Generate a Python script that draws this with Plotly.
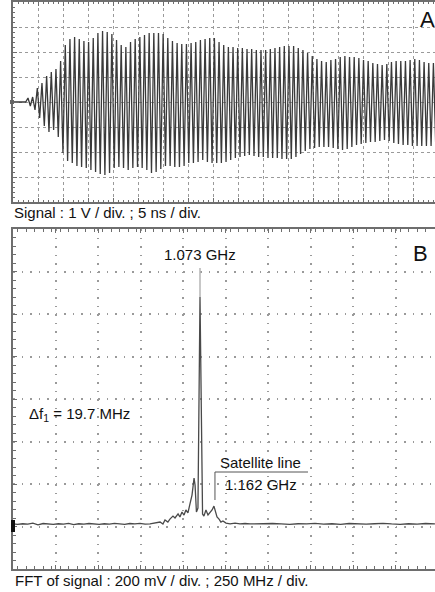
import plotly.graph_objects as go

# ---------------- data ----------------
# Panel A: per-cycle positive / negative peak voltages (V)
carrier_ghz = 1.073
signal_start_ns = 3.0
top_peaks_v = [0.16, 0.20, 0.56, 0.76, 1.04, 1.20, 1.32, 1.64, 2.28, 2.52,
               2.60, 2.52, 2.44, 2.40, 2.56, 2.76, 2.84, 2.80, 2.72, 2.48,
               2.28, 2.20, 2.40, 2.52, 2.60, 2.68, 2.76, 2.76, 2.76, 2.72,
               2.56, 2.44, 2.36, 2.32, 2.32, 2.36, 2.40, 2.48, 2.52, 2.56,
               2.56, 2.40, 2.28, 2.20, 2.20, 2.16, 2.16, 2.12, 2.12, 2.08,
               2.08, 2.08, 2.12, 2.16, 2.20, 2.24, 2.24, 2.24, 2.16, 2.08,
               1.96, 1.84, 1.72, 1.64, 1.60, 1.68, 1.72, 1.80, 1.84, 1.80,
               1.80, 1.76, 1.68, 1.64, 1.56, 1.52, 1.48, 1.52, 1.60, 1.64,
               1.64, 1.64, 1.68, 1.72, 1.68, 1.60, 1.56, 1.56]
bottom_peaks_v = [-0.16, -0.32, -0.64, -0.96, -1.20, -1.12, -1.40, -2.04, -2.36, -2.44,
                  -2.56, -2.60, -2.64, -2.72, -2.80, -2.88, -2.92, -2.84, -2.64, -2.60,
                  -2.64, -2.72, -2.64, -2.60, -2.64, -2.72, -2.84, -2.80, -2.68, -2.56,
                  -2.56, -2.60, -2.60, -2.56, -2.44, -2.44, -2.40, -2.32, -2.40, -2.44,
                  -2.44, -2.44, -2.40, -2.32, -2.24, -2.20, -2.16, -2.12, -2.16, -2.20,
                  -2.20, -2.24, -2.24, -2.24, -2.28, -2.28, -2.28, -2.20, -2.08, -1.96,
                  -1.88, -1.84, -1.80, -1.80, -1.80, -1.84, -1.88, -1.92, -1.88, -1.80,
                  -1.72, -1.68, -1.64, -1.60, -1.60, -1.56, -1.52, -1.56, -1.64, -1.68,
                  -1.72, -1.72, -1.76, -1.76, -1.76, -1.76, -1.76, -1.76]

# Panel B: FFT spectrum (MHz, V)
fft_freq_mhz = [-27, 0, 30, 60, 90, 120, 150, 180, 210, 240, 270, 300, 330, 360,
                390, 420, 450, 480, 510, 540, 570, 600, 630, 660, 690, 720, 750,
                779, 808, 838, 855, 867, 884, 896, 914, 926, 944, 955, 967, 979,
                990, 1002, 1014, 1026, 1038, 1044, 1052, 1061, 1073, 1088, 1096,
                1108, 1120, 1132, 1144, 1155, 1163, 1173, 1185, 1196, 1208, 1226,
                1250, 1279, 1308, 1338, 1367,
                1400, 1450, 1500, 1550, 1600, 1650, 1700, 1750, 1800, 1850, 1900,
                1950, 2000, 2050, 2100, 2150, 2200, 2250, 2300, 2350, 2400, 2455]
fft_amp_v = [0.012, 0.010, 0.013, 0.011, 0.016, 0.008, 0.014, 0.012, 0.010, 0.013,
             0.011, 0.015, 0.009, 0.013, 0.011, 0.014, 0.012, 0.010, 0.013, 0.011,
             0.015, 0.012, 0.010, 0.014, 0.012, 0.015, 0.011,
             0.012, 0.016, 0.021, 0.012, 0.031, 0.021, 0.035, 0.049, 0.040, 0.059,
             0.045, 0.068, 0.054, 0.078, 0.064, 0.106, 0.148, 0.228, 0.195, 0.068,
             0.087, 1.080, 0.059, 0.049, 0.078, 0.054, 0.064, 0.078, 0.096, 0.078,
             0.045, 0.035, 0.021, 0.026, 0.016, 0.012, 0.016, 0.012, 0.014, 0.012,
             0.013, 0.011, 0.014, 0.012, 0.010, 0.013, 0.012, 0.015, 0.011, 0.013,
             0.010, 0.014, 0.012, 0.011, 0.013, 0.015, 0.012, 0.010, 0.013, 0.011,
             0.014, 0.012]

# ---------------- build traces ----------------
period_ns = 1.0 / carrier_ghz
t_a = [0.0, signal_start_ns - period_ns / 2]
v_a = [0.0, 0.0]
for k, (tp, bt) in enumerate(zip(top_peaks_v, bottom_peaks_v)):
    t0 = signal_start_ns + k * period_ns
    t_a += [t0, t0 + period_ns / 2]
    v_a += [tp, bt]

FONT = "Arial, 'Liberation Sans', sans-serif"
W, H = 435, 592
GRID = "#9a9a9a"
FRAME = "#6e6e6e"

fig = go.Figure()
fig.add_trace(go.Scatter(x=t_a, y=v_a, mode="lines",
                         line=dict(color="#3a3a3a", width=1.3),
                         xaxis="x", yaxis="y", hoverinfo="skip"))
fig.add_trace(go.Scatter(x=fft_freq_mhz, y=fft_amp_v, mode="lines",
                         line=dict(color="#4a4a4a", width=1.3),
                         xaxis="x2", yaxis="y2", hoverinfo="skip"))

def px_x(p):
    return p / W

def px_y(p):
    return 1 - p / H

x_dom = [px_x(13), 1.0]
a_range = [0, (W - 13) / 25 * 5]
b_f0 = -27
b_range = [b_f0, b_f0 + (W - 13) / 42.5 * 250]

common_x = dict(showticklabels=False, showgrid=True, gridcolor=GRID, zeroline=False,
                showline=True, linecolor=FRAME, mirror="allticks",
                ticks="inside", tickcolor=FRAME, ticklen=4)
common_y = dict(showticklabels=False, showgrid=True, gridcolor=GRID, zeroline=False,
                showline=True, linecolor=FRAME, mirror=False,
                ticks="inside", tickcolor=FRAME, ticklen=4)

fig.update_layout(
    width=W, height=H,
    margin=dict(l=0, r=0, t=0, b=0),
    paper_bgcolor="white", plot_bgcolor="white",
    showlegend=False,
    font=dict(family=FONT, size=15, color="#111111"),
    xaxis=dict(domain=x_dom, range=a_range, anchor="y", tick0=0, dtick=5,
               griddash="dot", gridwidth=1, linewidth=1.5,
               minor=dict(ticks="inside", dtick=1, ticklen=2, tickcolor=FRAME, showgrid=False),
               **common_x),
    yaxis=dict(domain=[px_y(202), px_y(2)], range=[-4, 4], anchor="x", tick0=-4, dtick=1,
               griddash="dot", gridwidth=1, linewidth=1.5,
               minor=dict(ticks="inside", dtick=0.2, ticklen=2, tickcolor=FRAME, showgrid=False),
               **common_y),
    xaxis2=dict(domain=x_dom, range=b_range, anchor="y2", tick0=b_f0, dtick=250,
                griddash="1.5px,7px", gridwidth=1.5, linewidth=2,
                minor=dict(ticks="inside", dtick=50, ticklen=3, tickcolor=FRAME, showgrid=False),
                **common_x),
    yaxis2=dict(domain=[px_y(569), px_y(229)], range=[-0.2, 1.4], anchor="x2", tick0=-0.2, dtick=0.2,
                griddash="1.5px,7px", gridwidth=1.5, linewidth=1.5,
                minor=dict(ticks="inside", dtick=0.04, ticklen=3, tickcolor=FRAME, showgrid=False),
                **common_y),
)

def vy(py):
    # panel B pixel row -> volts
    return -0.2 + (569 - py) / 42.5 * 0.2

def fx(px):
    # panel B pixel column -> MHz
    return b_f0 + (px - 13) / 42.5 * 250

ann = []
ann.append(dict(text="Signal : 1 V / div. ; 5 ns / div.", xref="paper", yref="paper",
                x=px_x(12), y=px_y(212), xanchor="left", yanchor="middle", showarrow=False))
ann.append(dict(text="FFT of signal : 200 mV / div. ; 250 MHz / div.", xref="paper", yref="paper",
                x=px_x(13), y=px_y(580), xanchor="left", yanchor="middle", showarrow=False))
ann.append(dict(text="A", xref="paper", yref="paper", x=px_x(427), y=px_y(19),
                xanchor="center", yanchor="middle", showarrow=False, font=dict(size=22)))
ann.append(dict(text="B", xref="paper", yref="paper", x=px_x(420), y=px_y(253),
                xanchor="center", yanchor="middle", showarrow=False, font=dict(size=22)))
ann.append(dict(text="1.073 GHz", xref="x2", yref="y2", x=1073, y=vy(254),
                xanchor="center", yanchor="middle", showarrow=False))
ann.append(dict(text="\u0394f<sub>1</sub> = 19.7 MHz", xref="x2", yref="y2", x=fx(27), y=vy(414),
                xanchor="left", yanchor="middle", showarrow=False))
ann.append(dict(text="Satellite line", xref="x2", yref="y2", x=fx(260), y=vy(462),
                xanchor="center", yanchor="middle", showarrow=False))
ann.append(dict(text="1.162 GHz", xref="x2", yref="y2", x=fx(261), y=vy(484),
                xanchor="center", yanchor="middle", showarrow=False))
fig.update_layout(annotations=ann)

shapes = []
# marker above main peak
shapes.append(dict(type="line", xref="x2", yref="y2", x0=1073, x1=1073, y0=1.08, y1=vy(268),
                   line=dict(color="#b5b5b5", width=1.5)))
# satellite-line bracket
shapes.append(dict(type="line", xref="x2", yref="y2", x0=1161, x1=fx(308), y0=vy(472), y1=vy(472),
                   line=dict(color="#555555", width=1)))
shapes.append(dict(type="line", xref="x2", yref="y2", x0=1161, x1=1161, y0=vy(472), y1=vy(500),
                   line=dict(color="#555555", width=1)))
# ground markers
shapes.append(dict(type="rect", xref="paper", yref="paper", x0=px_x(10), x1=px_x(14),
                   y0=px_y(104), y1=px_y(100), fillcolor="#666666", line=dict(width=0)))
shapes.append(dict(type="rect", xref="paper", yref="paper", x0=px_x(11), x1=px_x(15),
                   y0=px_y(532), y1=px_y(520), fillcolor="#111111", line=dict(width=0)))
fig.update_layout(shapes=shapes)

fig.write_html("out.html")
